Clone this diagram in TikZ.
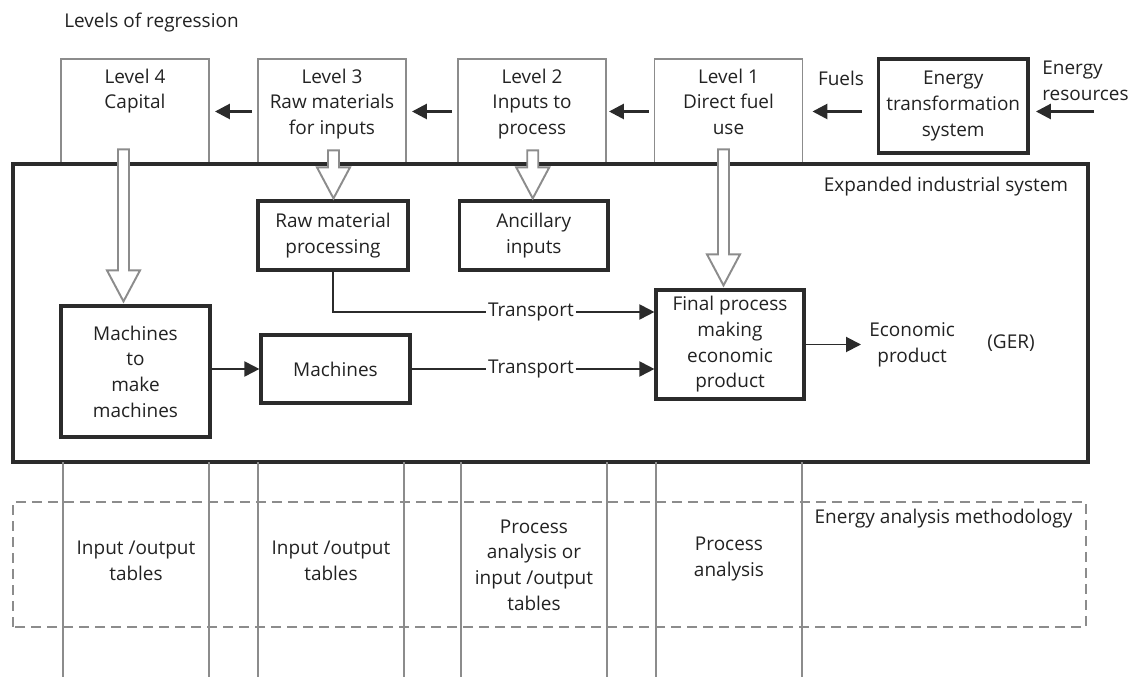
\documentclass[tikz,border=0pt]{standalone}
\usepackage{fontspec}
\setmainfont{Open Sans}
\usetikzlibrary{arrows.meta,positioning,calc}
\definecolor{flowdark}{HTML}{2B2B2B}
\definecolor{flowgray}{HTML}{8C8C8C}
\definecolor{flowtext}{HTML}{222222}

\begin{document}
\begin{tikzpicture}[
  font=\fontsize{10.8}{14.6}\selectfont,
  every node/.style={text=flowtext},
  levelbox/.style={draw=flowgray,line width=1.1pt,minimum width=2.96cm,minimum height=2.1cm,inner sep=0pt},
  lvtext/.style={align=center,inner sep=2pt},
  procbox/.style={draw=flowdark,line width=1.8pt,align=center,inner sep=1pt},
  tip/.style={-{Triangle[length=0.3cm,width=0.3cm]}},
  flow/.style={draw=flowdark,line width=1.6pt,tip},
  link/.style={draw=flowdark,line width=1.1pt},
  hollow/.style={draw=flowgray,line width=1.1pt,fill=white,line join=miter},
  colline/.style={draw=flowgray,line width=1.1pt}
]
  \useasboundingbox (0,0) rectangle (22.6,13.54);

  % Level columns
  \node[anchor=west,inner sep=0pt] (title) at (1.28,13.08) {Levels of regression};
  \node[levelbox] (lv4) at (2.70,11.31) {};
  \node[levelbox] (lv3) at (6.64,11.31) {};
  \node[levelbox] (lv2) at (10.64,11.31) {};
  \node[levelbox] (lv1) at (14.57,11.31) {};
  \node[lvtext,below=0.14cm of lv4.north] (lv4t) {Level 4\\Capital};
  \node[lvtext,below=0.14cm of lv3.north] (lv3t) {Level 3\\Raw materials\\for inputs};
  \node[lvtext,below=0.14cm of lv2.north] (lv2t) {Level 2\\Inputs to\\process};
  \node[lvtext,below=0.14cm of lv1.north] (lv1t) {Level 1\\Direct fuel\\use};

  % Energy supply side
  \node[procbox,line width=2.2pt,minimum width=2.99cm,minimum height=1.88cm] (ets) at (19.065,11.42) {Energy\\transformation\\system};
  \node (fuels) at (16.82,11.98) {Fuels};
  \node[align=left,anchor=west,inner sep=0pt] (eres) at (20.84,11.93) {Energy\\resources};
  \coordinate (src) at (21.88,11.31);

  \draw[flow] ([xshift=-0.1cm]lv3.west) -- ([xshift=0.1cm]lv4.east);
  \draw[flow] ([xshift=-0.1cm]lv2.west) -- ([xshift=0.1cm]lv3.east);
  \draw[flow] ([xshift=-0.1cm]lv1.west) -- ([xshift=0.04cm]lv2.east);
  \draw[flow] ($(lv1.east -| ets.west)+(-0.3,0)$) -- ([xshift=0.18cm]lv1.east);
  \draw[flow,shorten >=0.12cm] (src) -- (src -| ets.east);

  % Expanded industrial system
  \draw[draw=flowdark,line width=2.3pt] (0.26,4.30) rectangle (21.76,10.26);
  \node (eis) at (18.92,9.80) {Expanded industrial system};

  \node[procbox,minimum width=3.0cm,minimum height=1.38cm] (rmp) at (6.66,8.83) {Raw material\\processing};
  \node[procbox,minimum width=2.97cm,minimum height=1.38cm] (anc) at (10.675,8.83) {Ancillary\\inputs};
  \node[procbox,minimum width=2.98cm,minimum height=2.62cm] (mmm) at (2.71,6.11) {Machines\\to\\make\\machines};
  \node[procbox,minimum width=2.98cm,minimum height=1.36cm] (mach) at (6.71,6.16) {Machines};
  \node[procbox,minimum width=2.96cm,minimum height=2.18cm] (fp) at (14.60,6.65) {Final process\\making\\economic\\product};

  % hollow arrows from the levels
  \foreach \dst/\dx/\dy/\len in {mmm/-0.24/0.06/2.42, rmp/0.01/0.02/0.34, anc/-0.02/0.02/0.34, fp/-0.13/0.06/2.10} {
    \draw[hollow] ($(\dst.north)+(\dx,\dy)$) -- ++(0.33,0.62) -- ++(-0.22,0) -- ++(0,\len)
      -- ++(-0.22,0) -- ++(0,-\len) -- ++(-0.22,0) -- cycle;
  }

  \node[inner sep=1pt] (tr1) at (10.62,7.30) {Transport};
  \node[inner sep=1pt] (tr2) at (10.62,6.16) {Transport};
  \draw[link] (rmp.south) |- (tr1.west);
  \draw[link,tip] (tr1.east) -- (tr1.east -| fp.west);
  \draw[link] (mach.east) -- (tr2.west);
  \draw[link,tip] (tr2.east) -- (tr2.east -| fp.west);
  \draw[link,tip] (mmm.east |- mach.east) -- (mach.west);

  \node[align=center,anchor=west,inner sep=0.16cm] (econ) at (17.22,6.65) {Economic\\product};
  \node (ger) at (20.22,6.68) {(GER)};
  \draw[link,tip] (fp.east) -- (econ.west);

  % Energy analysis methodology
  \foreach \x in {1.26,4.18,5.16,8.08,9.22,12.14,13.12,16.04}
    \draw[colline] (\x,0) -- (\x,4.30);
  \draw[draw=flowgray,line width=1.1pt,dash pattern=on 0.2cm off 0.12cm] (0.26,1.00) rectangle (21.72,3.50);
  \node (eam) at (18.87,3.16) {Energy analysis methodology};
  \node[align=center] (io4) at (2.72,2.32) {Input /output\\tables};
  \node[align=center] (io3) at (6.62,2.32) {Input /output\\tables};
  \node[align=center] (pa2) at (10.68,2.24) {Process\\analysis or\\input /output\\tables};
  \node[align=center] (pa1) at (14.58,2.36) {Process\\analysis};

\end{tikzpicture}
\end{document}
